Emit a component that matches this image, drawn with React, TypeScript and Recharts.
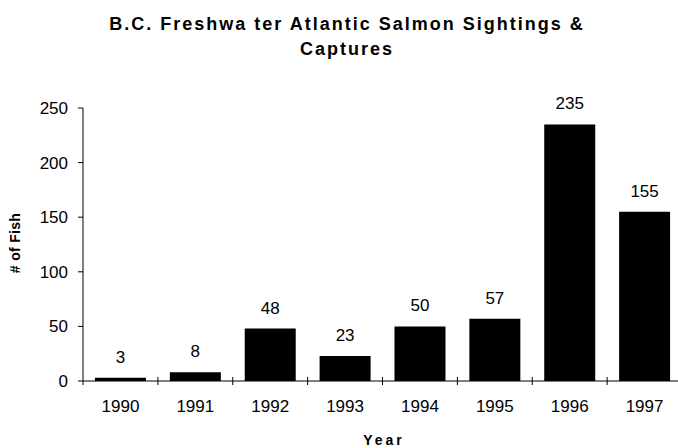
import React from 'react';
import { BarChart, Bar, XAxis, YAxis, LabelList } from 'recharts';

const years = ['1990', '1991', '1992', '1993', '1994', '1995', '1996', '1997'];
const fishCounts = [3, 8, 48, 23, 50, 57, 235, 155];
const yTicks = [0, 50, 100, 150, 200, 250];

const data = years.map((year, i) => ({ year, fish: fishCounts[i] }));

const CHART_W = 700;
const CHART_H = 448;
const MARGIN = { top: 108, right: 18, bottom: 37, left: 33 };
const Y_AXIS_W = 50;
const X_AXIS_H = 30;
const FONT = '"Liberation Sans", Arial, sans-serif';

const plotWidth = CHART_W - MARGIN.left - MARGIN.right - Y_AXIS_W;
const halfBand = plotWidth / years.length / 2;
const axisY = CHART_H - MARGIN.bottom - X_AXIS_H;

const YearTick = (props: any) => {
  const { x, payload, index } = props;
  return (
    <g>
      <line x1={x + halfBand} x2={x + halfBand} y1={axisY - 4} y2={axisY + 4} stroke="#000" strokeWidth={1} />
      {index === 0 && (
        <line x1={x - halfBand} x2={x - halfBand} y1={axisY} y2={axisY + 4} stroke="#000" strokeWidth={1} />
      )}
      <text x={x} y={axisY + 31} textAnchor="middle" fontSize={17} fontFamily={FONT} fill="#000">
        {payload.value}
      </text>
    </g>
  );
};

const App = () => {
  return (
    <div style={{ position: 'absolute', left: 0, top: 0, width: 678, height: 448, overflow: 'hidden', background: '#fff', fontFamily: FONT }}>
      <div style={{ position: 'absolute', left: 0, top: 12, width: 694, textAlign: 'center', fontWeight: 'bold', fontSize: 18, letterSpacing: 2, lineHeight: '25px', color: '#000' }}>
        B.C. Freshwa ter Atlantic Salmon Sightings &amp;
        <br />
        Captures
      </div>
      <div style={{ position: 'absolute', left: 15, top: 243, transform: 'translate(-50%, -50%) rotate(-90deg)', fontWeight: 'bold', fontSize: 14, letterSpacing: 0.3, whiteSpace: 'nowrap', color: '#000' }}>
        # of Fish
      </div>
      <div style={{ position: 'absolute', left: 384, top: 440, transform: 'translate(-50%, -50%)', fontWeight: 'bold', fontSize: 14, letterSpacing: 3, color: '#000' }}>
        Year
      </div>
      <BarChart width={CHART_W} height={CHART_H} data={data} margin={MARGIN} barCategoryGap="16%">
        <XAxis
          dataKey="year"
          tickLine={false}
          tick={<YearTick />}
          axisLine={{ stroke: '#000' }}
          height={X_AXIS_H}
          interval={0}
        />
        <YAxis
          domain={[0, 250]}
          ticks={yTicks}
          width={Y_AXIS_W}
          tickSize={5}
          tickMargin={10}
          axisLine={{ stroke: '#000' }}
          tickLine={{ stroke: '#000' }}
          tick={{ fontSize: 17, fill: '#000', fontFamily: FONT }}
        />
        <Bar dataKey="fish" fill="#000" isAnimationActive={false}>
          <LabelList dataKey="fish" position="top" offset={15} fill="#000" fontSize={17} fontFamily={FONT} />
        </Bar>
      </BarChart>
    </div>
  );
};

export default App;
